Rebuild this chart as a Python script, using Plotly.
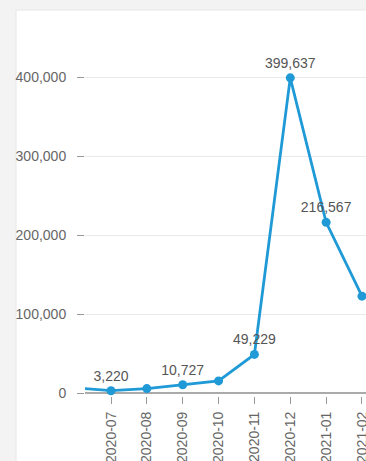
import plotly.graph_objects as go

months = ["2020-06", "2020-07", "2020-08", "2020-09", "2020-10",
          "2020-11", "2020-12", "2021-01", "2021-02"]
values = [7000, 3220, 5900, 10727, 15600, 49229, 399637, 216567, 123000]
shown_labels = ["", "3,220", "", "10,727", "", "49,229", "399,637", "216,567", ""]
y_ticks = [0, 100000, 200000, 300000, 400000]

LINE = "#1f9ad6"

fig = go.Figure()
fig.add_trace(go.Scatter(
    x=months, y=values, mode="lines+markers+text",
    line=dict(color=LINE, width=2.8),
    marker=dict(color=LINE, size=9),
    text=shown_labels, textposition="top center",
    textfont=dict(size=14, color="#555555"),
    hoverinfo="x+y",
))

W, H = 366, 461
ml, mr, mt, mb = 85, 0, 30, 65
pw = W - ml - mr
ph = H - mt - mb

fig.add_shape(type="rect", xref="paper", yref="paper",
              x0=(16 - ml) / pw, x1=1.1, y0=-0.5, y1=1 + (mt - 10) / ph,
              fillcolor="white", line=dict(color="#e6e6e6", width=1),
              layer="below")

fig.update_layout(
    width=W, height=H,
    margin=dict(l=ml, r=mr, t=mt, b=mb, autoexpand=False),
    paper_bgcolor="#f3f3f3",
    plot_bgcolor="rgba(0,0,0,0)",
    font=dict(family="Liberation Sans, Arial, sans-serif", size=14, color="#666666"),
    showlegend=False,
    xaxis=dict(
        type="category", categoryorder="array", categoryarray=months,
        range=[0.275, 8.112], automargin=False,
        tickangle=-90, ticks="outside", ticklen=7, tickcolor="#999999",
        ticklabelstandoff=2,
        showgrid=False, showline=False, zeroline=False,
        tickfont=dict(size=14, color="#666666"),
    ),
    yaxis=dict(
        range=[-3500, 460300], automargin=False,
        tickvals=y_ticks, tickformat=",",
        ticks="outside", ticklen=7, tickcolor="#999999",
        ticklabelstandoff=8,
        gridcolor="#e9e9e9", gridwidth=1,
        zeroline=True, zerolinecolor="#aaaaaa", zerolinewidth=1.5,
        showline=False,
        tickfont=dict(size=14, color="#666666"),
    ),
)

fig.write_html("out.html")
